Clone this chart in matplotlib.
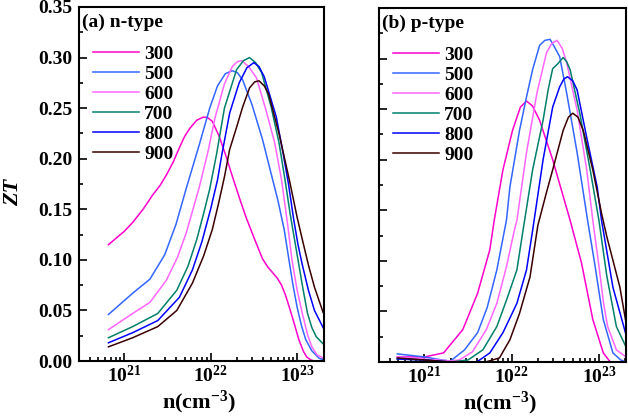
import numpy as np
import matplotlib
matplotlib.use("Agg")
import matplotlib.pyplot as plt
from matplotlib.ticker import FixedLocator, LogLocator, NullFormatter, MultipleLocator, FormatStrFormatter

plt.rcParams['font.family'] = ['Liberation Serif', 'DejaVu Serif']
plt.rcParams['font.weight'] = 'bold'
plt.rcParams['mathtext.fontset'] = 'custom'
plt.rcParams['mathtext.rm'] = 'Liberation Serif:bold'
plt.rcParams['mathtext.it'] = 'Liberation Serif:italic:bold'
plt.rcParams['mathtext.bf'] = 'Liberation Serif:bold'
plt.rcParams['mathtext.default'] = 'rm'

temps = ['300', '500', '600', '700', '800', '900']
colors = ['#FF00CC', '#3366FF', '#FF66FF', '#00806A', '#0000FF', '#3A0000']

# (a) n-type : log10(n) and ZT
logn_a_300 = [20.82, 21.0, 21.1, 21.22, 21.33, 21.42, 21.49, 21.57, 21.64, 21.7, 21.76, 21.84, 21.91, 21.96, 22.02, 22.1, 22.18, 22.25, 22.33, 22.41, 22.51, 22.6, 22.66, 22.71, 22.77, 22.82, 22.87, 22.91, 22.97, 23.02, 23.07, 23.11, 23.16, 23.2, 23.3]
zt_a_300 = [0.115, 0.128, 0.137, 0.15, 0.164, 0.174, 0.184, 0.197, 0.211, 0.222, 0.23, 0.238, 0.241, 0.241, 0.237, 0.222, 0.202, 0.183, 0.162, 0.142, 0.12, 0.101, 0.093, 0.088, 0.082, 0.075, 0.064, 0.053, 0.036, 0.021, 0.01, 0.004, 0.001, 0.0, 0.0]
logn_a_500 = [20.82, 21.1, 21.3, 21.47, 21.6, 21.72, 21.87, 21.99, 22.08, 22.17, 22.25, 22.31, 22.37, 22.48, 22.6, 22.7, 22.78, 22.85, 22.9, 22.95, 23.0, 23.05, 23.1, 23.17, 23.25, 23.3]
zt_a_500 = [0.046, 0.067, 0.081, 0.105, 0.135, 0.171, 0.214, 0.25, 0.272, 0.284, 0.287, 0.285, 0.278, 0.253, 0.219, 0.185, 0.158, 0.13, 0.103, 0.076, 0.053, 0.035, 0.021, 0.01, 0.003, 0.001]
logn_a_600 = [20.82, 21.1, 21.3, 21.49, 21.62, 21.72, 21.87, 21.97, 22.05, 22.16, 22.25, 22.31, 22.36, 22.44, 22.53, 22.64, 22.74, 22.82, 22.89, 22.94, 23.0, 23.06, 23.12, 23.17, 23.23, 23.3]
zt_a_600 = [0.031, 0.047, 0.058, 0.08, 0.103, 0.127, 0.172, 0.207, 0.24, 0.274, 0.291, 0.296, 0.297, 0.291, 0.28, 0.248, 0.216, 0.179, 0.135, 0.1, 0.07, 0.047, 0.026, 0.014, 0.006, 0.003]
logn_a_700 = [20.82, 21.1, 21.39, 21.61, 21.74, 21.84, 21.92, 21.99, 22.07, 22.16, 22.3, 22.38, 22.45, 22.52, 22.59, 22.7, 22.79, 22.86, 22.92, 22.97, 23.02, 23.07, 23.12, 23.17, 23.22, 23.3]
zt_a_700 = [0.023, 0.034, 0.047, 0.07, 0.094, 0.12, 0.146, 0.17, 0.205, 0.25, 0.288, 0.297, 0.3, 0.295, 0.285, 0.251, 0.216, 0.179, 0.145, 0.12, 0.095, 0.07, 0.047, 0.033, 0.024, 0.017]
logn_a_800 = [20.82, 21.1, 21.39, 21.64, 21.79, 21.9, 22.0, 22.08, 22.13, 22.22, 22.33, 22.42, 22.5, 22.56, 22.62, 22.76, 22.83, 22.9, 22.96, 23.01, 23.06, 23.13, 23.2, 23.3]
zt_a_800 = [0.018, 0.028, 0.04, 0.063, 0.09, 0.118, 0.15, 0.179, 0.204, 0.245, 0.275, 0.29, 0.295, 0.291, 0.281, 0.241, 0.209, 0.175, 0.14, 0.115, 0.095, 0.07, 0.05, 0.033]
logn_a_900 = [20.82, 21.1, 21.39, 21.61, 21.79, 21.92, 22.02, 22.09, 22.16, 22.22, 22.3, 22.37, 22.45, 22.51, 22.56, 22.62, 22.67, 22.79, 22.91, 23.0, 23.06, 23.13, 23.2, 23.3]
zt_a_900 = [0.014, 0.023, 0.034, 0.05, 0.077, 0.104, 0.13, 0.155, 0.182, 0.209, 0.231, 0.251, 0.27, 0.276, 0.277, 0.272, 0.264, 0.225, 0.179, 0.142, 0.12, 0.095, 0.073, 0.048]

# (b) p-type
logn_b_300 = [20.69, 21.0, 21.22, 21.44, 21.61, 21.75, 21.8, 21.9, 22.01, 22.1, 22.17, 22.24, 22.32, 22.47, 22.67, 22.8, 22.93, 23.05, 23.13, 23.31]
zt_b_300 = [0.005, 0.005, 0.009, 0.032, 0.068, 0.111, 0.14, 0.19, 0.229, 0.252, 0.258, 0.253, 0.239, 0.2, 0.14, 0.098, 0.042, 0.009, 0.0, 0.0]
logn_b_500 = [20.69, 21.0, 21.2, 21.3, 21.46, 21.61, 21.72, 21.83, 21.94, 21.98, 22.09, 22.17, 22.24, 22.32, 22.38, 22.44, 22.5, 22.55, 22.63, 22.75, 22.87, 22.95, 23.05, 23.16, 23.25, 23.31]
zt_b_500 = [0.008, 0.005, 0.002, 0.001, 0.012, 0.029, 0.054, 0.091, 0.14, 0.173, 0.229, 0.262, 0.289, 0.313, 0.318, 0.319, 0.31, 0.302, 0.266, 0.207, 0.14, 0.098, 0.042, 0.009, 0.002, 0.0]
logn_b_600 = [20.69, 21.0, 21.3, 21.4, 21.55, 21.71, 21.83, 21.94, 22.03, 22.06, 22.17, 22.29, 22.4, 22.46, 22.52, 22.58, 22.63, 22.75, 22.86, 22.93, 23.0, 23.05, 23.1, 23.2, 23.31]
zt_b_600 = [0.005, 0.003, 0.001, 0.002, 0.01, 0.032, 0.058, 0.094, 0.13, 0.14, 0.207, 0.266, 0.306, 0.315, 0.318, 0.31, 0.296, 0.249, 0.19, 0.14, 0.095, 0.06, 0.035, 0.012, 0.005]
logn_b_700 = [20.69, 21.0, 21.3, 21.5, 21.67, 21.83, 21.94, 22.06, 22.13, 22.24, 22.36, 22.42, 22.47, 22.53, 22.59, 22.63, 22.67, 22.78, 22.9, 23.0, 23.09, 23.2, 23.31]
zt_b_700 = [0.003, 0.002, 0.0, 0.002, 0.012, 0.035, 0.061, 0.091, 0.13, 0.19, 0.239, 0.27, 0.29, 0.295, 0.301, 0.297, 0.289, 0.246, 0.19, 0.14, 0.085, 0.035, 0.015]
logn_b_800 = [20.69, 21.0, 21.3, 21.6, 21.75, 21.9, 22.06, 22.17, 22.24, 22.36, 22.47, 22.55, 22.6, 22.64, 22.7, 22.75, 22.86, 22.98, 23.03, 23.16, 23.31]
zt_b_800 = [0.003, 0.002, 0.0, 0.0, 0.009, 0.029, 0.058, 0.091, 0.13, 0.2, 0.252, 0.272, 0.28, 0.282, 0.278, 0.269, 0.222, 0.173, 0.14, 0.074, 0.027]
logn_b_900 = [20.69, 21.0, 21.3, 21.7, 21.86, 21.98, 22.09, 22.21, 22.3, 22.4, 22.47, 22.59, 22.65, 22.7, 22.76, 22.82, 22.93, 23.03, 23.09, 23.24, 23.31]
zt_b_900 = [0.004, 0.002, 0.0, 0.0, 0.004, 0.022, 0.048, 0.084, 0.135, 0.168, 0.19, 0.229, 0.242, 0.246, 0.242, 0.229, 0.19, 0.147, 0.124, 0.074, 0.039]

series_a = [(logn_a_300, zt_a_300), (logn_a_500, zt_a_500), (logn_a_600, zt_a_600),
            (logn_a_700, zt_a_700), (logn_a_800, zt_a_800), (logn_a_900, zt_a_900)]
series_b = [(logn_b_300, zt_b_300), (logn_b_500, zt_b_500), (logn_b_600, zt_b_600),
            (logn_b_700, zt_b_700), (logn_b_800, zt_b_800), (logn_b_900, zt_b_900)]

fig = plt.figure(figsize=(6.28, 4.16), dpi=100)
ax1 = fig.add_axes([0.1258, 0.1322, 0.3901, 0.851])
ax2 = fig.add_axes([0.6035, 0.1298, 0.3933, 0.851])

for ax, series, title in [(ax1, series_a, '(a) n-type'), (ax2, series_b, '(b) p-type')]:
    for (lx, zt), t, c in zip(series, temps, colors):
        ax.plot(10 ** np.array(lx), zt, color=c, lw=1.1, label=t)
    ax.set_xscale('log')
    ax.set_xlim(10 ** 20.48, 10 ** 23.31)
    ax.set_ylim(0, 0.35)
    ax.xaxis.set_major_locator(FixedLocator([1e21, 1e22, 1e23]))
    ax.xaxis.set_minor_locator(LogLocator(base=10, subs=np.arange(2, 10)))
    ax.xaxis.set_minor_formatter(NullFormatter())
    ax.yaxis.set_major_locator(MultipleLocator(0.05))
    ax.yaxis.set_minor_locator(MultipleLocator(0.025))
    ax.yaxis.set_major_formatter(FormatStrFormatter('%.2f'))
    ax.tick_params(which='both', direction='in', top=False, right=False, labelsize=14, width=1.2)
    ax.tick_params(which='major', length=6, pad=5)
    ax.tick_params(which='minor', length=3)
    ax.tick_params(axis='x', which='major', pad=3)
    for sp in ax.spines.values():
        sp.set_linewidth(1.5)
    ax.text(0.012, 0.982, title, transform=ax.transAxes, ha='left', va='top',
            fontsize=14, fontweight='bold')
    ax.legend(loc='upper left', bbox_to_anchor=(0.0, 0.93), frameon=False, fontsize=14,
              handlelength=2.4, handletextpad=0.25, labelspacing=0.12, borderaxespad=0.3)
    ax.set_xlabel('n(cm$^{-3}$)', fontsize=16, fontweight='bold')
    ax.xaxis.set_label_coords(0.49, -0.078)
    ax.xaxis.label.set_va('top')

ax2.tick_params(labelleft=False)
ax1.set_ylabel('ZT', fontsize=16, fontweight='bold', style='italic')
ax1.yaxis.set_label_coords(-0.27, 0.477)
ax1.yaxis.label.set_va('center')

fig.savefig('out.png', dpi=100)
